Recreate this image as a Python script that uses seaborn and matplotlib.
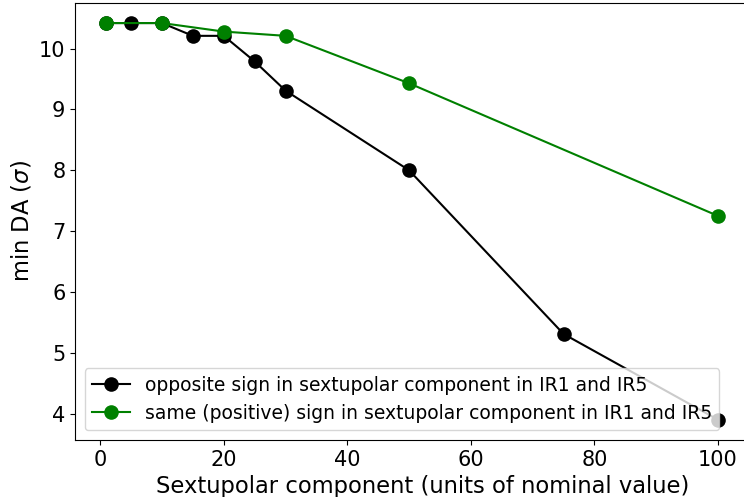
import matplotlib
matplotlib.use("Agg")
import matplotlib.pyplot as plt
import seaborn as sns
import pandas as pd

x_opposite = [1, 5, 10, 15, 20, 25, 30, 50, 75, 100]
y_opposite = [10.42, 10.42, 10.42, 10.21, 10.21, 9.79, 9.31, 8.0, 5.31, 3.9]
x_same = [1, 10, 20, 30, 50, 100]
y_same = [10.42, 10.42, 10.28, 10.21, 9.43, 7.25]
label_opposite = "opposite sign in sextupolar component in IR1 and IR5"
label_same = "same (positive) sign in sextupolar component in IR1 and IR5"

plt.rcParams['font.family'] = ['DejaVu Sans']
fig, ax = plt.subplots(figsize=(7.44, 4.97), dpi=100)
fig.subplots_adjust(left=0.101, right=1.034, top=0.994, bottom=0.115)

df1 = pd.DataFrame({"x": x_opposite, "y": y_opposite})
df2 = pd.DataFrame({"x": x_same, "y": y_same})
sns.lineplot(data=df1, x="x", y="y", ax=ax, color="black", marker="o",
             markersize=10.5, markeredgewidth=0, linewidth=1.5, label=label_opposite)
sns.lineplot(data=df2, x="x", y="y", ax=ax, color="green", marker="o",
             markersize=10.5, markeredgewidth=0, linewidth=1.5, label=label_same)

ax.set_xlabel("Sextupolar component (units of nominal value)", fontsize=16.3)
ax.set_ylabel(r"min DA ($\sigma$)", fontsize=16.3)
ax.tick_params(labelsize=15)
ax.set_xticks([0, 20, 40, 60, 80, 100])
ax.set_yticks([4, 5, 6, 7, 8, 9, 10])
ax.set_xlim(-4.05, 108.3)
ax.set_ylim(3.57, 10.75)
ax.legend(loc="lower left", fontsize=13.5)

fig.savefig("out.png", dpi=100)
